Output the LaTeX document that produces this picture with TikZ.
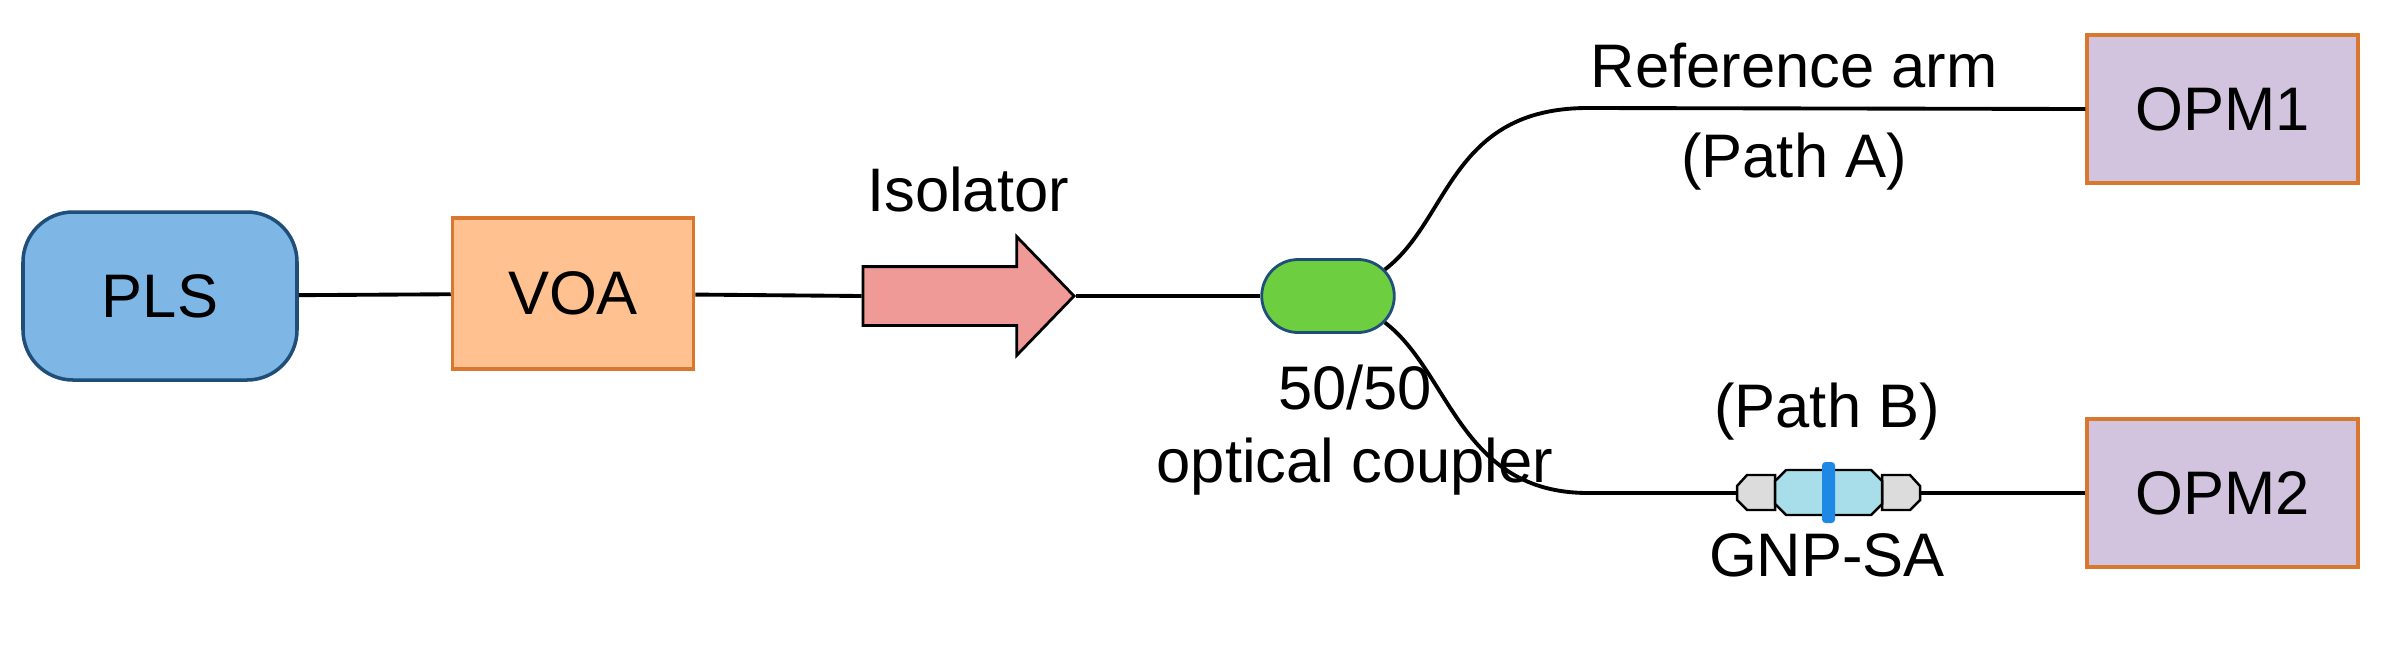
\documentclass[tikz,border=0pt]{standalone}
\usepackage{fontspec}
\setmainfont{Liberation Sans}
\usetikzlibrary{shapes.arrows,shapes.misc}
\definecolor{plsfill}{HTML}{7EB6E6}
\definecolor{plsdraw}{HTML}{1F4E79}
\definecolor{voafill}{HTML}{FFC18F}
\definecolor{orgdraw}{HTML}{D9772E}
\definecolor{isofill}{HTML}{F09A98}
\definecolor{cplfill}{HTML}{6DCF3F}
\definecolor{opmfill}{HTML}{D2C3DF}
\definecolor{safill}{HTML}{A7DEEA}
\definecolor{sabar}{HTML}{1E88E5}
\definecolor{sagrey}{HTML}{DCDCDC}

\begin{document}
\begin{tikzpicture}[
    lbl/.style={font=\fontsize{17.5}{21}\selectfont},
    box/.style={draw=orgdraw,line width=1pt,minimum width=2.71cm,minimum height=1.48cm,lbl},
    fiber/.style={line width=1.1pt,black}]
    \useasboundingbox (0,0) rectangle (23.82,-6.55);

    % sources and boxes
    \node[box,draw=plsdraw,fill=plsfill,rounded corners=0.5cm,minimum width=2.74cm,minimum height=1.68cm] (pls) at (1.60,-2.96) {PLS};
    \node[box,fill=voafill,minimum width=2.41cm,minimum height=1.51cm] (voa) at (5.73,-2.935) {VOA};
    \node[single arrow,draw=black,line width=0.8pt,fill=isofill,minimum height=2.11cm,inner xsep=0pt,inner ysep=0.28cm,
          single arrow head extend=0.30cm,single arrow tip angle=92,anchor=tip] (iso) at (10.76,-2.96) {};
    \node[lbl] at (9.68,-1.90) {Isolator};
    \node[rounded rectangle,draw=plsdraw,line width=0.8pt,fill=cplfill,minimum width=1.56cm,minimum height=0.73cm] (cpl) at (13.28,-2.96) {};
    \node[lbl,align=center] at (13.55,-4.30) {50/50\\optical coupler};
    \node[box,fill=opmfill] (opm1) at (22.225,-1.09) {OPM1};
    \node[box,fill=opmfill] (opm2) at (22.225,-4.93) {OPM2};

    \node[lbl] at (17.94,-0.66) {Reference arm};
    \node[lbl] at (17.94,-1.62) {(Path A)};
    \node[lbl] at (18.27,-4.12) {(Path B)};
    \node[lbl] at (18.27,-5.55) {GNP-SA};

    % fibers
    \coordinate (armA) at (15.88,-1.08);
    \coordinate (armB) at (15.88,-4.93);
    \coordinate (sa1) at (17.37,-4.93);
    \coordinate (sa2) at (19.20,-4.93);
    \draw[fiber] (pls) -- (voa);
    \draw[fiber] (voa) -- (iso.tail);
    \draw[fiber] (iso.tip) -- (cpl.west);
    \draw[fiber] (cpl.25) .. controls (14.50,-2.20) and (14.50,-1.08) .. (armA) -- (opm1.west);
    \draw[fiber] (cpl.-25) .. controls (14.50,-3.72) and (14.60,-4.93) .. (armB) -- (sa1);
    \draw[fiber] (sa2) -- (opm2.west);

    % saturable absorber connector
    \draw[line width=0.7pt,fill=sagrey] (17.75,-4.75) -- (17.47,-4.75) -- (17.37,-4.86) -- (17.37,-5.00) -- (17.47,-5.10) -- (17.75,-5.10) -- cycle;
    \draw[line width=0.7pt,fill=sagrey] (18.82,-4.75) -- (19.10,-4.75) -- (19.20,-4.86) -- (19.20,-5.00) -- (19.10,-5.10) -- (18.82,-5.10) -- cycle;
    \draw[line width=0.7pt,fill=safill] (17.86,-4.70) -- (18.71,-4.70) -- (18.82,-4.81) -- (18.82,-5.04) -- (18.71,-5.15) -- (17.86,-5.15) -- (17.75,-5.04) -- (17.75,-4.81) -- cycle;
    \fill[sabar,rounded corners=1pt] (18.22,-4.62) rectangle (18.35,-5.23);
\end{tikzpicture}
\end{document}
